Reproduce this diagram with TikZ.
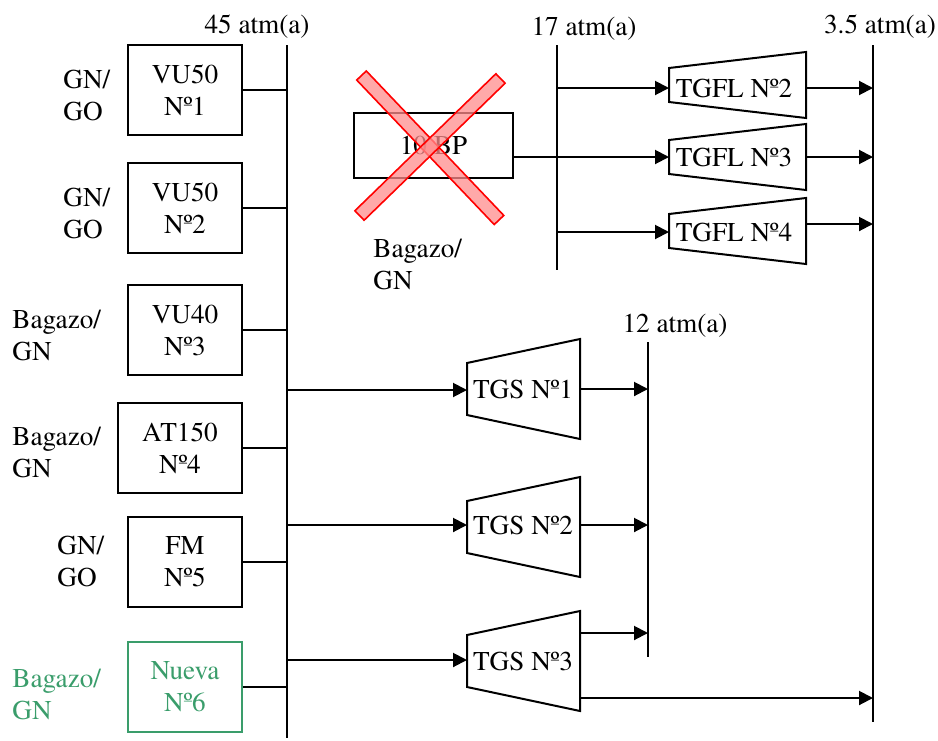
\documentclass[tikz,border=0pt]{standalone}
\usepackage{fontspec}
\setmainfont{texgyretermes}[Extension=.otf, UprightFont=*-regular, BoldFont=*-bold]
\usepackage{tikz}
\usetikzlibrary{arrows.meta,calc}
\definecolor{newgreen}{HTML}{3A9D6B}
\definecolor{xred}{HTML}{FF0000}
\tikzset{
  every picture/.style={line join=miter, >={Triangle[length=7pt,width=7pt]}},
  unitbox/.style={draw, line width=1pt, inner sep=0pt, align=center, minimum width=57pt, minimum height=45pt},
  fuel/.style={anchor=west, inner sep=0pt, align=left},
  bus/.style={line width=1pt},
  feed/.style={line width=1pt},
  turb/.style={draw, line width=1pt},
  xband/.style={draw=xred, line width=0.8pt, fill=xred!45, fill opacity=0.75},
}

\begin{document}
\begin{tikzpicture}[x=0.5pt, y=-0.5pt, font=\rmfamily\fontsize{13.6}{16}\selectfont]
\useasboundingbox (0,0) rectangle (938,740);
% pressure headers
\coordinate (b45t) at (287,45);  \coordinate (b45b) at (287,738);
\coordinate (b17t) at (557,45);  \coordinate (b17b) at (557,270);
\coordinate (b12t) at (648,342); \coordinate (b12b) at (648,657);
\coordinate (b35t) at (873,45);  \coordinate (b35b) at (873,722);
\draw[bus] (b45t) -- (b45b);
\draw[bus] (b17t) -- (b17b);
\draw[bus] (b12t) -- (b12b);
\draw[bus] (b35t) -- (b35b);
\node[anchor=base] (p45) at (257,33) {45 atm(a)};
\node[anchor=base] (p17) at (584,35) {17 atm(a)};
\node[anchor=base] (p12) at (675,332) {12 atm(a)};
\node[anchor=base] (p35) at (880,33) {3.5 atm(a)};

% boilers
\node[unitbox] (vuA) at (185,90) {VU50\\Nº1};
\node[unitbox] (vuB) at (185,208) {VU50\\Nº2};
\node[unitbox] (vuC) at (185,330) {VU40\\Nº3};
\node[unitbox, minimum width=62pt] (atD) at (180,448) {AT150\\Nº4};
\node[unitbox] (fmE) at (185,562) {FM\\Nº5};
\node[unitbox, draw=newgreen, text=newgreen, line width=0.8pt] (nvF) at (185,687) {Nueva\\Nº6};
\node[fuel] (fA) at (63,95) {GN/\\GO};
\node[fuel] (fB) at (63,213) {GN/\\GO};
\node[fuel] (fC) at (12,335) {Bagazo/\\GN};
\node[fuel] (fD) at (12,452) {Bagazo/\\GN};
\node[fuel] (fE) at (57,561) {GN/\\GO};
\node[fuel, text=newgreen] (fF) at (12,694) {Bagazo/\\GN};
\foreach \b in {vuA,vuB,vuC,atD,fmE,nvF}
  \draw[feed] (\b.east) -- (\b.east -| b45t);

% retired boiler
\node[unitbox, minimum width=79.5pt, minimum height=32.5pt] (bp) at (433.5,145.5) {10 BP};
\node[fuel] (fbp) at (373,264) {Bagazo/\\GN};
\coordinate (xa) at (361.5,75.5); \coordinate (xb) at (499,220);
\coordinate (xc) at (500.5,78.5); \coordinate (xd) at (359.5,215.5);
\draw[xband] ($(xa)!3.3pt!90:(xb)$) -- ($(xa)!3.3pt!-90:(xb)$) -- ($(xb)!3.3pt!90:(xa)$) -- ($(xb)!3.3pt!-90:(xa)$) -- cycle;
\draw[xband] ($(xc)!3.3pt!90:(xd)$) -- ($(xc)!3.3pt!-90:(xd)$) -- ($(xd)!3.3pt!90:(xc)$) -- ($(xd)!3.3pt!-90:(xc)$) -- cycle;

% turbogenerators 17 atm
\draw[turb] (669,68) -- (806,52) -- (806,118) -- (669,102) -- cycle;
\draw[turb] (669,140) -- (806,124) -- (806,190) -- (669,174) -- cycle;
\draw[turb] (669,214) -- (806,198) -- (806,264) -- (669,248) -- cycle;
\node (tgflA) at (734,88) {TGFL Nº2};
\node (tgflB) at (734,157) {TGFL Nº3};
\node (tgflC) at (734,232) {TGFL Nº4};
\coordinate (inA) at (669,88);  \coordinate (outA) at (806,88);
\coordinate (inB) at (669,157); \coordinate (outB) at (806,157);
\coordinate (inC) at (669,232); \coordinate (outC) at (806,224);
\draw[feed,->] (inA -| b17t) -- (inA);
\draw[feed,->] (bp.east |- inB) -- (inB);
\draw[feed,->] (inC -| b17t) -- (inC);
\draw[feed,->] (outA) -- (outA -| b35t);
\draw[feed,->] (outB) -- (outB -| b35t);
\draw[feed,->] (outC) -- (outC -| b35t);

% turbogenerators 45 atm
\draw[turb] (467,363) -- (580,339) -- (580,439) -- (467,415) -- cycle;
\draw[turb] (467,501) -- (580,477) -- (580,577) -- (467,553) -- cycle;
\draw[turb] (467,635) -- (580,611) -- (580,711) -- (467,687) -- cycle;
\node (tgsA) at (523,389) {TGS Nº1};
\node (tgsB) at (523,525) {TGS Nº2};
\node (tgsC) at (523,661) {TGS Nº3};
\coordinate (sinA) at (467,390); \coordinate (soutA) at (580,389);
\coordinate (sinB) at (467,525); \coordinate (soutB) at (580,525);
\coordinate (sinC) at (467,660); \coordinate (soutC) at (580,633);
\coordinate (soutD) at (580,698);
\draw[feed,->] (sinA -| b45t) -- (sinA);
\draw[feed,->] (sinB -| b45t) -- (sinB);
\draw[feed,->] (sinC -| b45t) -- (sinC);
\draw[feed,->] (soutA) -- (soutA -| b12t);
\draw[feed,->] (soutB) -- (soutB -| b12t);
\draw[feed,->] (soutC) -- (soutC -| b12t);
\draw[feed,->] (soutD) -- (soutD -| b35t);
\end{tikzpicture}
\end{document}
